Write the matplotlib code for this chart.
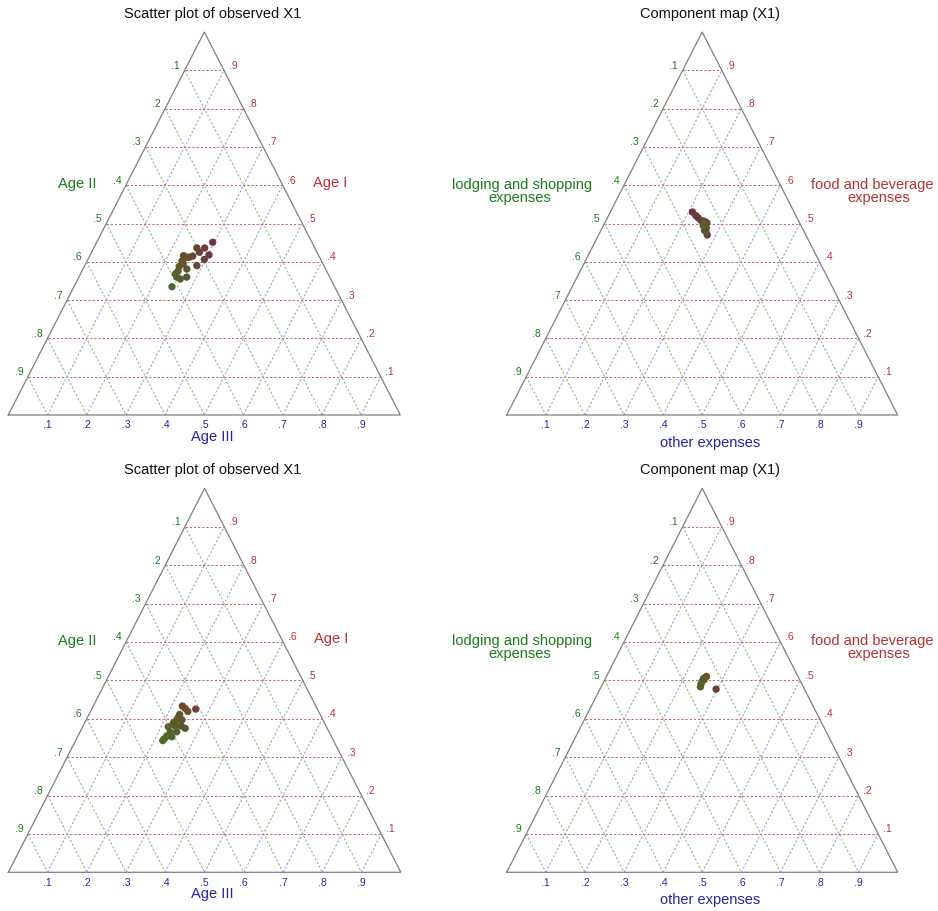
import numpy as np
import matplotlib
matplotlib.use("Agg")
import matplotlib.pyplot as plt

plt.rcParams['font.family'] = ['Liberation Sans', 'DejaVu Sans']

FIG_W, FIG_H, DPI = 938, 912, 100

TICKS = [0.1, 0.2, 0.3, 0.4, 0.5, 0.6, 0.7, 0.8, 0.9]
TICK_TEXT = ['.1', '.2', '.3', '.4', '.5', '.6', '.7', '.8', '.9']

# Observed X1 shares, first sample (Age I, Age II, Age III)
obs1_age1 = [0.451, 0.436, 0.436, 0.425, 0.418, 0.406, 0.390, 0.415, 0.412, 0.416, 0.412,
             0.395, 0.388, 0.381, 0.368, 0.355, 0.360, 0.360, 0.335, 0.376, 0.402]
obs1_age2 = [0.253, 0.281, 0.301, 0.300, 0.279, 0.297, 0.324, 0.322, 0.332, 0.345, 0.339,
             0.356, 0.370, 0.354, 0.390, 0.384, 0.390, 0.365, 0.415, 0.379, 0.356]
obs1_age3 = [0.296, 0.283, 0.263, 0.275, 0.303, 0.297, 0.286, 0.263, 0.256, 0.239, 0.249,
             0.249, 0.242, 0.265, 0.242, 0.261, 0.250, 0.275, 0.250, 0.245, 0.242]

# Observed X1 shares, second sample
obs2_age1 = [0.425, 0.433, 0.427, 0.419, 0.411, 0.402, 0.397, 0.394, 0.389, 0.379,
             0.381, 0.375, 0.381, 0.366, 0.365, 0.355, 0.343, 0.353, 0.348]
obs2_age2 = [0.310, 0.340, 0.336, 0.333, 0.358, 0.367, 0.359, 0.376, 0.385, 0.403,
             0.385, 0.362, 0.369, 0.388, 0.405, 0.419, 0.435, 0.407, 0.428]
obs2_age3 = [0.265, 0.227, 0.237, 0.248, 0.231, 0.231, 0.244, 0.230, 0.226, 0.218,
             0.234, 0.263, 0.250, 0.246, 0.230, 0.226, 0.222, 0.240, 0.224]

# Component maps (food & beverage, lodging & shopping, other) and the observation each belongs to
comp1_food = [0.530, 0.521, 0.515, 0.508, 0.506, 0.502, 0.494, 0.489, 0.482, 0.470, 0.499, 0.479]
comp1_lodging = [0.260, 0.256, 0.253, 0.249, 0.242, 0.237, 0.250, 0.245, 0.253, 0.252, 0.248, 0.251]
comp1_other = [0.210, 0.223, 0.232, 0.243, 0.252, 0.261, 0.256, 0.266, 0.265, 0.278, 0.253, 0.270]
comp1_obs = [0, 1, 4, 5, 3, 7, 18, 15, 16, 2, 14, 13]

comp2_food = [0.510, 0.505, 0.498, 0.490, 0.483, 0.501, 0.477]
comp2_lodging = [0.234, 0.244, 0.251, 0.258, 0.263, 0.245, 0.226]
comp2_other = [0.256, 0.251, 0.251, 0.252, 0.254, 0.254, 0.297]
comp2_obs = [1, 4, 9, 16, 14, 10, 0]

RED, GREEN, BLUE = '#B43434', '#1C7A1C', '#2424A8'
GRID_RED, GRID_GREEN, GRID_BLUE = '#B87070', '#84BC84', '#9A9AD8'
EDGE = '#808080'
DASH = (0, (2.2, 1.8))


def composition_colours(a1, a2, a3):
    shares = np.column_stack([a1, a2, a3])
    return np.clip((shares - 0.105) * 1.3, 0, 1)


def to_xy(top, right):
    top = np.asarray(top, float)
    right = np.asarray(right, float)
    return right + top / 2, top


fig = plt.figure(figsize=(FIG_W / DPI, FIG_H / DPI), dpi=DPI)


def make_panel(left, base, width, height):
    ax = fig.add_axes([left / FIG_W, 1 - base / FIG_H, width / FIG_W, height / FIG_H])
    ax.set_xlim(0, 1)
    ax.set_ylim(0, 1)
    ax.axis('off')
    return ax


def draw_frame(ax, title):
    for v in TICKS:
        ax.plot([v / 2, 1 - v / 2], [v, v], color=GRID_RED, lw=0.75, ls=DASH, clip_on=False)
        ax.plot([(1 - v) / 2, 1 - v], [1 - v, 0], color=GRID_GREEN, lw=0.75, ls=DASH, clip_on=False)
        ax.plot([v, (1 + v) / 2], [0, 1 - v], color=GRID_BLUE, lw=0.75, ls=DASH, clip_on=False)
    ax.plot([0, 1, 0.5, 0], [0, 0, 1, 0], color=EDGE, lw=0.9, clip_on=False,
            solid_joinstyle='miter')
    for v, s in zip(TICKS, TICK_TEXT):
        ax.annotate(s, (1 - v / 2, v), xytext=(9, 5.5), textcoords='offset pixels',
                    ha='center', va='center', color=RED, fontsize=7.5)
        ax.annotate(s, ((1 - v) / 2, 1 - v), xytext=(-9, 5.5), textcoords='offset pixels',
                    ha='center', va='center', color=GREEN, fontsize=7.5)
        ax.annotate(s, (v, 0), xytext=(0, -9.5), textcoords='offset pixels',
                    ha='center', va='center', color=BLUE, fontsize=7.5)
    ax.text(0.52, 1.05, title, ha='center', va='center', fontsize=10.5, color='#111111')


def age_labels(ax):
    ax.text(0.175, 0.605, 'Age II', ha='center', va='center', fontsize=10.5, color=GREEN)
    ax.text(0.822, 0.609, 'Age I', ha='center', va='center', fontsize=10.5, color=RED)
    ax.text(0.52, -0.055, 'Age III', ha='center', va='center', fontsize=10.5, color=BLUE)


def expense_labels(ax):
    ax.text(0.039, 0.604, 'lodging and shopping', ha='center', va='center', fontsize=10.5, color=GREEN)
    ax.text(0.034, 0.570, 'expenses', ha='center', va='center', fontsize=10.5, color=GREEN)
    ax.text(0.934, 0.604, 'food and beverage', ha='center', va='center', fontsize=10.5, color=RED)
    ax.text(0.952, 0.570, 'expenses', ha='center', va='center', fontsize=10.5, color=RED)
    ax.text(0.52, -0.070, 'other expenses', ha='center', va='center', fontsize=10.5, color=BLUE)


panels = [
    (make_panel(8.3, 416, 392, 383), 'Scatter plot of observed X1', 'age',
     (obs1_age1, obs1_age3), composition_colours(obs1_age1, obs1_age2, obs1_age3)),
    (make_panel(506.7, 416, 391, 383), 'Component map (X1)', 'expense',
     (comp1_food, comp1_other),
     composition_colours(obs1_age1, obs1_age2, obs1_age3)[comp1_obs]),
    (make_panel(8.3, 873.3, 392.5, 384), 'Scatter plot of observed X1', 'age',
     (obs2_age1, obs2_age3), composition_colours(obs2_age1, obs2_age2, obs2_age3)),
    (make_panel(506.7, 873.3, 391, 384), 'Component map (X1)', 'expense',
     (comp2_food, comp2_other),
     composition_colours(obs2_age1, obs2_age2, obs2_age3)[comp2_obs]),
]

for ax, title, kind, (top, right), colours in panels:
    draw_frame(ax, title)
    if kind == 'age':
        age_labels(ax)
    else:
        expense_labels(ax)
    x, y = to_xy(top, right)
    ax.scatter(x, y, s=28, c=colours, linewidths=0, zorder=3, clip_on=False)

fig.savefig('out.png', dpi=DPI)
